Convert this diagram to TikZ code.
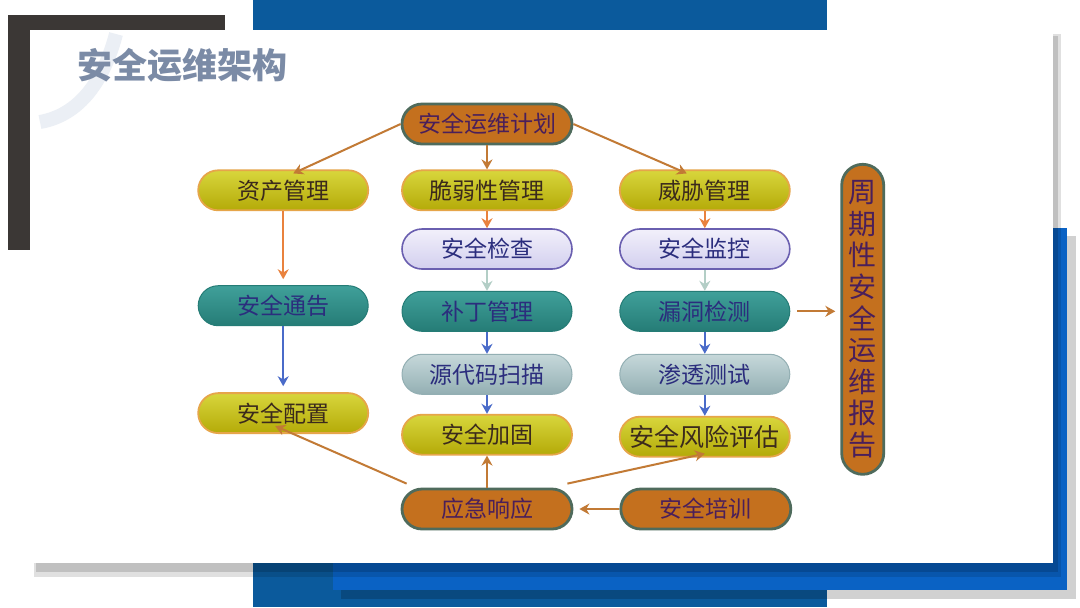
\documentclass[tikz,border=0pt]{standalone}
\usepackage{fontspec}
\setmainfont{Noto Sans CJK SC}
\usepackage{xcolor}
\usetikzlibrary{positioning,arrows.meta}

\definecolor{framegray}{HTML}{3B3735}
\definecolor{bluedark}{HTML}{0B5A9C}
\definecolor{bluelight}{HTML}{0A62C4}
\definecolor{titlecol}{HTML}{7B8BA6}
\definecolor{swoosh}{HTML}{EBEFF5}
\definecolor{brnfill}{HTML}{C4701E}
\definecolor{brnedge}{HTML}{4F6B5C}
\definecolor{ylwtop}{HTML}{D8D63C}
\definecolor{ylwbot}{HTML}{B4AA08}
\definecolor{ylwedge}{HTML}{E6A54A}
\definecolor{lavtop}{HTML}{F2F0FB}
\definecolor{lavbot}{HTML}{D2CFEE}
\definecolor{lavedge}{HTML}{6A5FB0}
\definecolor{teatop}{HTML}{40A09A}
\definecolor{teabot}{HTML}{257C76}
\definecolor{gry1}{HTML}{C6D8DA}
\definecolor{gry2}{HTML}{93AFB3}
\definecolor{txtbrn}{HTML}{3B2A1C}
\definecolor{txtnavy}{HTML}{2B2D7D}
\definecolor{txtpur}{HTML}{4A1F5A}
\definecolor{arrbrn}{HTML}{C27A35}
\definecolor{arrorg}{HTML}{E9823E}
\definecolor{arrlgt}{HTML}{B3CEC6}
\definecolor{arrblu}{HTML}{4A6BC9}

\begin{document}
\begin{tikzpicture}[
  x=0.5pt, y=-0.5pt,
  font=\fontsize{11.5pt}{13pt}\selectfont, >={Stealth[length=5pt,width=5.5pt]},
  pill/.style={rounded corners=10pt,minimum width=85pt,minimum height=20pt,inner sep=0pt},
  plan/.style={pill,fill=brnfill,draw=brnedge,line width=1.4pt,text=txtpur},
  ylw/.style={pill,top color=ylwtop,bottom color=ylwbot,draw=ylwedge,line width=0.9pt,text=txtbrn},
  lav/.style={pill,top color=lavtop,bottom color=lavbot,draw=lavedge,line width=0.8pt,text=txtnavy},
  tea/.style={pill,top color=teatop,bottom color=teabot,draw=teabot,line width=0.5pt,text=txtnavy},
  gry/.style={pill,top color=gry1,bottom color=gry2,draw=gry2,line width=0.5pt,text=txtnavy},
  ln/.style={->,line width=1pt}
]
\useasboundingbox (0,0) rectangle (1080,607);

% slide background
\fill[framegray] (8,15) rectangle (225,250);
\fill[bluedark] (253,0) rectangle (827,30);
\fill[bluedark] (253,563) rectangle (827,607);
\fill[black,opacity=0.18] (341,236) rectangle (1076,599);
\fill[bluelight] (333,228) rectangle (1067,590);
\fill[black,opacity=0.12] (34,34) rectangle (1061,577);
\fill[black,opacity=0.14] (36,36) rectangle (1058,572);
\fill[white] (30,30) rectangle (1053,563);
\draw[swoosh,line width=7pt] (40,122) .. controls (85,114) and (106,72) .. (116,34);

\node[font=\fontsize{17.5pt}{19pt}\selectfont\bfseries,text=titlecol,anchor=west] (title) at (70,65) {安全运维架构};

% nodes
\node[plan] (plan) at (487,124) {安全运维计划};
\node[ylw,below=12pt of plan] (vul) {脆弱性管理};
\node[ylw,left=16pt of vul] (asset) {资产管理};
\node[ylw,right=23pt of vul] (threat) {威胁管理};
\node[lav,below=8.5pt of vul] (check) {安全检查};
\node[lav,below=8.5pt of threat] (monitor) {安全监控};
\node[tea,below=10.5pt of check] (patch) {补丁管理};
\node[tea,below=10.5pt of monitor] (detect) {漏洞检测};
\node[gry,below=11pt of patch] (scan) {源代码扫描};
\node[gry,below=11pt of detect] (pentest) {渗透测试};
\node[ylw,below=9.5pt of scan] (harden) {安全加固};
\node[ylw,below=10.5pt of pentest,font=\fontsize{12.5pt}{14pt}\selectfont] (risk) {安全风险评估};
\node[plan,below=16pt of harden] (resp) {应急响应};
\node[plan,right=23pt of resp] (train) {安全培训};
\node[tea,below=37pt of asset] (notice) {安全通告};
\node[ylw,below=33pt of notice] (config) {安全配置};
\node[plan,minimum width=21pt,minimum height=155pt,rounded corners=10.5pt,align=center,
  font=\fontsize{14pt}{15.8pt}\selectfont,right=25pt of detect,yshift=-4pt] (report)
  {周\\期\\性\\安\\全\\运\\维\\报\\告};

% connectors
\draw[ln,arrbrn] (plan.west) -- ([xshift=5pt,yshift=-2pt]asset.north);
\draw[ln,arrbrn] (plan) -- (vul);
\draw[ln,arrbrn] (plan.east) -- ([xshift=-9pt,yshift=-2pt]threat.north);
\draw[ln,arrorg,shorten >=3pt] (asset) -- (notice);
\draw[ln,arrorg] (vul) -- (check);
\draw[ln,arrorg] (threat) -- (monitor);
\draw[ln,arrlgt] (check) -- (patch);
\draw[ln,arrlgt] (monitor) -- (detect);
\draw[ln,arrblu,shorten >=3pt] (notice) -- (config);
\draw[ln,arrblu] (patch) -- (scan);
\draw[ln,arrblu] (scan) -- (harden);
\draw[ln,arrblu] (detect) -- (pentest);
\draw[ln,arrblu] (pentest) -- (risk);
\draw[ln,arrbrn,shorten <=3.5pt,shorten >=2.5pt] (detect.east) -- (detect.east -| report.west);
\draw[ln,arrbrn] ([xshift=3pt,yshift=2pt]resp.north west) -- ([xshift=-4pt,yshift=4pt]config.south);
\draw[ln,arrbrn] (resp) -- (harden);
\draw[ln,arrbrn] ([xshift=-3pt,yshift=2pt]resp.north east) -- ([yshift=2pt]risk.south);
\draw[ln,arrbrn,shorten >=3pt] (train) -- (resp);
\end{tikzpicture}
\end{document}
